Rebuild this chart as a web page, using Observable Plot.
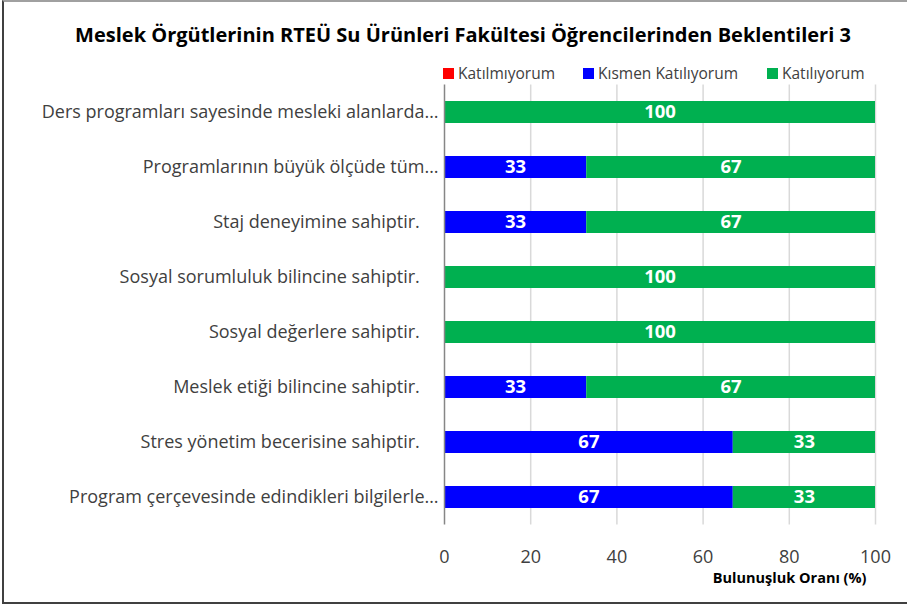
<!DOCTYPE html>
<html>
<head>
<meta charset="utf-8">
<script src="https://cdn.jsdelivr.net/npm/d3@7"></script>
<script src="https://cdn.jsdelivr.net/npm/@observablehq/plot@0.6"></script>
<style>
  html, body { margin: 0; padding: 0; background: #fff; }
  body { width: 907px; height: 605px; position: relative; overflow: hidden; font-family: "Open Sans", sans-serif; }
  #frame { position: absolute; left: 2px; top: 0px; width: 920px; height: 604px; border: 2px solid #404040; border-top: 2px solid #a0a0a0; box-sizing: border-box; }
  #title { position: absolute; left: 0; width: 926px; top: 21px; text-align: center; font-weight: bold; font-size: 20px; color: #000; }
  #legend { position: absolute; left: 443px; top: 63px; font-size: 15.5px; color: #404040; white-space: nowrap; height: 20px; }
  #legend .item { position: absolute; top: 0; display: flex; align-items: center; height: 20px; }
  #legend .sw { width: 11px; height: 11px; margin-right: 4px; }
  #chart { position: absolute; left: 0; top: 60px; }
  #chart svg text { white-space: pre; }
</style>
</head>
<body>
<div id="frame"></div>
<div id="title">Meslek Örgütlerinin RTEÜ Su Ürünleri Fakültesi Öğrencilerinden Beklentileri 3</div>
<div id="legend"></div>
<div id="chart"></div>
<script>
const categories = [
  "Ders programları sayesinde mesleki alanlarda…",
  "Programlarının büyük ölçüde tüm…",
  "Staj deneyimine sahiptir.",
  "Sosyal sorumluluk bilincine sahiptir.",
  "Sosyal değerlere sahiptir.",
  "Meslek etiği bilincine sahiptir.",
  "Stres yönetim becerisine sahiptir.",
  "Program çerçevesinde edindikleri bilgilerle…"
];
const seriesNames = ["Katılmıyorum", "Kısmen Katılıyorum", "Katılıyorum"];
const seriesColors = ["#FF0000", "#0000FF", "#00B050"];
const katilmiyorum = [0, 0, 0, 0, 0, 0, 0, 0];
const kismenKatiliyorum = [0, 33, 33, 0, 0, 33, 67, 67];
const katiliyorum = [100, 67, 67, 100, 100, 67, 33, 33];
const xTicks = [0, 20, 40, 60, 80, 100];
const xLabel = "Bulunuşluk Oranı (%)";

const seriesValues = [katilmiyorum, kismenKatiliyorum, katiliyorum];
const data = [];
categories.forEach((c, i) => {
  seriesNames.forEach((s, j) => {
    data.push({category: c, series: s, value: seriesValues[j][i]});
  });
});

const legend = document.getElementById("legend");
const legendOffsets = [0, 140, 324];
seriesNames.forEach((s, j) => {
  const it = document.createElement("div");
  it.className = "item";
  it.style.left = legendOffsets[j] + "px";
  it.innerHTML = `<span class="sw" style="background:${seriesColors[j]}"></span><span>${s}</span>`;
  legend.appendChild(it);
});

const font = '"Open Sans", sans-serif';
const chart = Plot.plot({
  width: 907,
  height: 540,
  marginLeft: 444,
  marginRight: 32,
  marginTop: 24.5,
  marginBottom: 75.5,
  style: {fontFamily: font, background: "transparent"},
  x: {domain: [0, 100], ticks: xTicks},
  y: {domain: categories, paddingInner: 0.6, paddingOuter: 0.3, round: false},
  color: {domain: seriesNames, range: seriesColors},
  marks: [
    Plot.gridX(xTicks.slice(1), {stroke: "#d9d9d9", strokeOpacity: 1, strokeWidth: 1.5}),
    Plot.barX(data, Plot.stackX({x: "value", y: "category", fill: "series", order: seriesNames})),
    Plot.text(data, Plot.stackX({filter: d => d.value > 0, x: "value", y: "category", z: "series", order: seriesNames, text: d => String(d.value), fill: "white", fontWeight: "bold", fontSize: 18.5})),
    Plot.ruleX([0], {stroke: "#868686", strokeWidth: 1.5}),
    Plot.ruleY([0], {frameAnchor: "bottom", stroke: "#868686", strokeWidth: 1.5}),
    Plot.axisX({ticks: xTicks, tickSize: 0, tickPadding: 25, fontSize: 18, color: "#404040", label: null}),
    Plot.axisY({tickSize: 0, tickPadding: 6, fontSize: 18, color: "#404040", label: null,
      tickFormat: d => d.endsWith("…") ? d : d + "\u00a0\u00a0\u00a0\u00a0"}),
    Plot.text([xLabel], {frameAnchor: "bottom-right", dx: -9, dy: 58, text: d => d, fontWeight: "bold", fontSize: 14.5, fill: "#000"})
  ]
});
document.getElementById("chart").appendChild(chart);
</script>
</body>
</html>
